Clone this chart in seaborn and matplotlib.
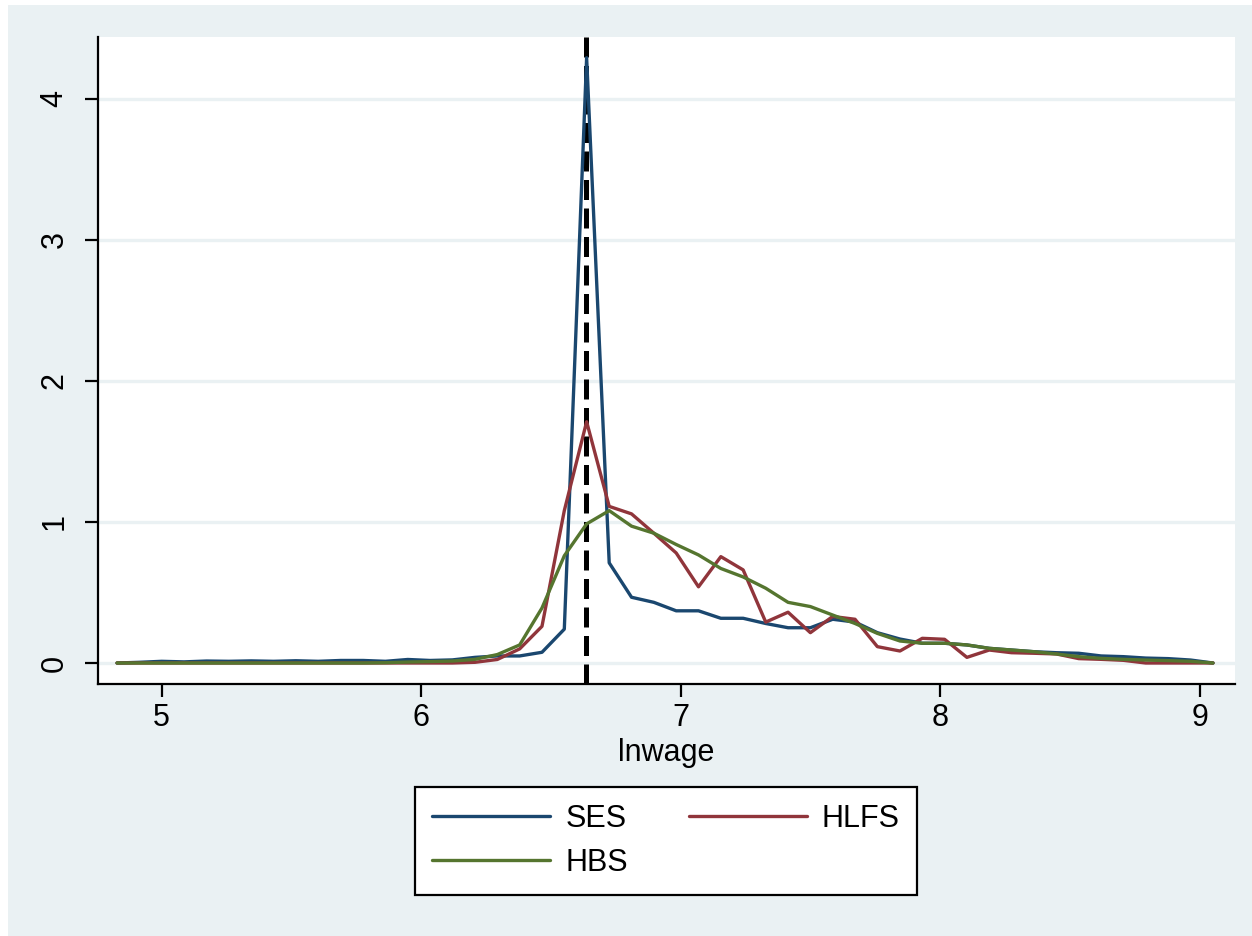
import pandas as pd
import matplotlib.pyplot as plt
import seaborn as sns
from matplotlib.patches import Rectangle

# evaluation grid (lnwage) and densities
lnwage = [4.828, 4.914, 5.000, 5.086, 5.173, 5.259, 5.345, 5.431, 5.517, 5.603,
          5.690, 5.776, 5.862, 5.948, 6.034, 6.120, 6.207, 6.293, 6.379, 6.465,
          6.551, 6.637, 6.724, 6.810, 6.896, 6.982, 7.068, 7.154, 7.240, 7.327,
          7.413, 7.499, 7.585, 7.671, 7.757, 7.844, 7.930, 8.016, 8.102, 8.188,
          8.274, 8.361, 8.447, 8.533, 8.619, 8.705, 8.791, 8.878, 8.964, 9.050]

ses = [0.0, 0.005, 0.012, 0.008, 0.014, 0.012, 0.015, 0.012, 0.016, 0.012,
       0.018, 0.018, 0.012, 0.025, 0.018, 0.022, 0.04, 0.05, 0.05, 0.076,
       0.24, 4.29, 0.71, 0.466, 0.43, 0.37, 0.37, 0.317, 0.317, 0.28,
       0.25, 0.25, 0.31, 0.29, 0.215, 0.17, 0.14, 0.14, 0.128, 0.104,
       0.092, 0.08, 0.073, 0.069, 0.05, 0.045, 0.035, 0.031, 0.021, 0.0]

hlfs = [0.0, 0.0, 0.0, 0.0, 0.0, 0.0, 0.0, 0.0, 0.0, 0.0,
        0.0, 0.0, 0.0, 0.0, 0.0, 0.0, 0.005, 0.025, 0.1, 0.26,
        1.08, 1.71, 1.11, 1.057, 0.92, 0.78, 0.54, 0.754, 0.66, 0.29,
        0.36, 0.215, 0.33, 0.31, 0.116, 0.085, 0.175, 0.168, 0.04, 0.092,
        0.073, 0.069, 0.064, 0.031, 0.026, 0.019, 0.0, 0.0, 0.0, 0.0]

hbs = [0.0, 0.0, 0.0, 0.0, 0.0, 0.0, 0.0, 0.0, 0.0, 0.0,
       0.0, 0.0, 0.002, 0.007, 0.01, 0.014, 0.026, 0.06, 0.128, 0.39,
       0.76, 0.986, 1.08, 0.97, 0.92, 0.84, 0.766, 0.67, 0.61, 0.53,
       0.43, 0.40, 0.34, 0.28, 0.21, 0.156, 0.14, 0.14, 0.128, 0.104,
       0.092, 0.08, 0.064, 0.045, 0.033, 0.026, 0.021, 0.017, 0.012, 0.0]

min_wage = 6.633
sources = ["SES", "HLFS", "HBS"]
colors = {"SES": "#1A476F", "HLFS": "#90353B", "HBS": "#55752F"}

df = pd.concat([
    pd.DataFrame({"lnwage": lnwage, "density": ses, "source": "SES"}),
    pd.DataFrame({"lnwage": lnwage, "density": hlfs, "source": "HLFS"}),
    pd.DataFrame({"lnwage": lnwage, "density": hbs, "source": "HBS"}),
])

sns.set_style("ticks")
plt.rcParams["font.family"] = ["Liberation Sans", "DejaVu Sans"]
plt.rcParams["text.color"] = "black"
plt.rcParams["axes.labelcolor"] = "black"
plt.rcParams["xtick.color"] = "black"
plt.rcParams["ytick.color"] = "black"

bg = "#EAF1F3"
fig = plt.figure(figsize=(12.52, 9.36), dpi=100)
fig.patch.set_facecolor("white")
fig.patches.append(Rectangle((8 / 1252, 0), 1, 1 - 5 / 936, transform=fig.transFigure,
                             facecolor=bg, edgecolor="none", zorder=-10))

ax = fig.add_axes([98 / 1252, 1 - 684 / 936, (1235 - 98) / 1252, (684 - 37) / 936])
ax.set_facecolor("white")

ax.axvline(min_wage, color="black", linewidth=3.6, linestyle=(0, (4.0, 1.7)), zorder=1.5)

sns.lineplot(data=df, x="lnwage", y="density", hue="source", hue_order=sources,
             palette=colors, linewidth=2.4, sort=False, estimator=None, ax=ax, zorder=2)

ax.set_xlim(4.7546, 9.1348)
ax.set_ylim(-0.1488, 4.437)
ax.set_xticks([5, 6, 7, 8, 9])
ax.set_yticks([0, 1, 2, 3, 4])
ax.yaxis.grid(True, color=bg, linewidth=2.4)
ax.xaxis.grid(False)
ax.set_axisbelow(True)

for side in ["top", "right"]:
    ax.spines[side].set_visible(False)
for side in ["left", "bottom"]:
    ax.spines[side].set_color("black")
    ax.spines[side].set_linewidth(1.6)

ax.tick_params(axis="both", length=9.4, width=1.6, color="black", labelcolor="black", labelsize=22)
ax.tick_params(axis="x", pad=4)
ax.tick_params(axis="y", pad=11)
plt.setp(ax.get_yticklabels(), rotation=90, va="center")

ax.set_xlabel("lnwage", fontsize=22, labelpad=4, color="black")
ax.set_ylabel("")

handles, labels = ax.get_legend_handles_labels()
order = [labels.index(s) for s in ["SES", "HBS", "HLFS"]]
leg = ax.legend([handles[i] for i in order], [labels[i] for i in order],
                ncol=2, loc="center", bbox_to_anchor=(666 / 1252, 1 - 841 / 936),
                bbox_transform=fig.transFigure, fontsize=22, frameon=True, fancybox=False,
                edgecolor="black", framealpha=1, handlelength=3.85, handletextpad=0.5,
                columnspacing=2.0, labelspacing=0.45, borderpad=0.55)
leg.get_frame().set_linewidth(1.6)
for line in leg.get_lines():
    line.set_linewidth(2.4)

fig.savefig("out.png", dpi=100)
